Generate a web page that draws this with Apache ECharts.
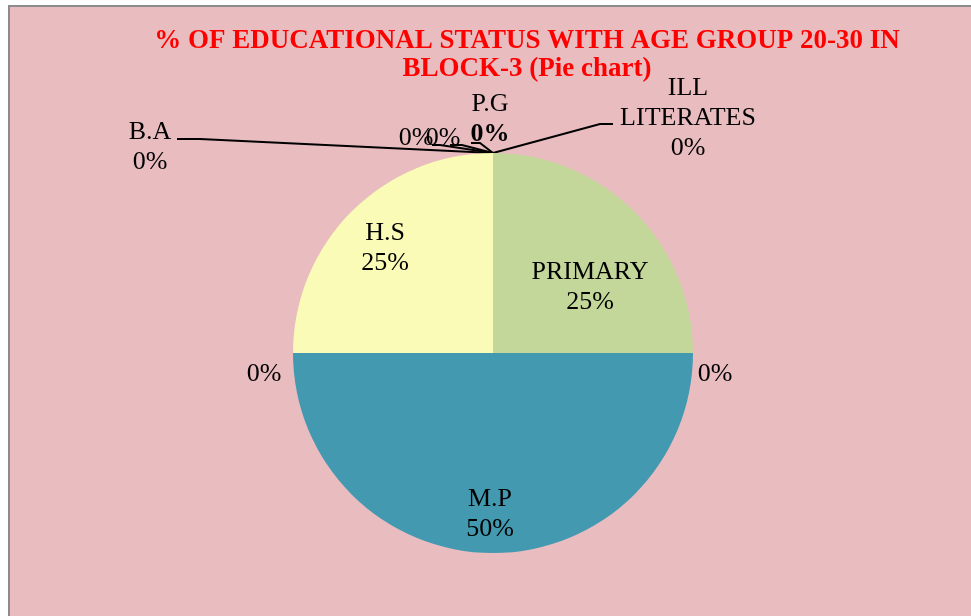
<!DOCTYPE html>
<html>
<head>
<meta charset="utf-8">
<title>Educational status, age group 20-30, Block-3</title>
<script src="https://cdn.jsdelivr.net/npm/echarts@6/dist/echarts.min.js"></script>
<style>
  html, body { margin: 0; padding: 0; background: #fff; overflow: hidden; }
  #frame {
    position: absolute; left: 8px; top: 5px; width: 1100px; height: 700px;
    border-left: 2px solid #8c8c8c; border-top: 2px solid #8c8c8c;
    background: #e9bcc0;
  }
  #chart { position: absolute; left: 0; top: 0; width: 1054px; height: 616px; }
</style>
</head>
<body>
<div id="frame"></div>
<div id="chart"></div>
<script>
// slices in clockwise order from 12 o'clock (blank names = unlabelled categories)
const categories = ['ILL LITERATES', 'PRIMARY', '', 'M.P', '', 'H.S', '', '', 'B.A', 'P.G'];
const shares = [0, 25, 0, 50, 0, 25, 0, 0, 0, 0];
const sliceColors = ['#c0504d', '#c4d79b', '#8064a2', '#4299b0', '#f79646', '#fafbb6', '#4f81bd', '#9bbb59', '#8064a2', '#4bacc6'];

// where each label sits on the page (center) and where its leader line bends
const labelSpots = [
  { x: 688, y: 118, line: [[600, 124], [613, 124]] },
  { x: 590, y: 287 },
  { x: 715, y: 374 },
  { x: 490, y: 514 },
  { x: 264, y: 374 },
  { x: 385, y: 248 },
  { x: 416, y: 138, line: [[440, 145], [432, 145]] },
  { x: 443, y: 138, line: [[462, 145], [450, 145]] },
  { x: 150, y: 147, line: [[200, 139], [177, 139]] },
  { x: 490, y: 119, line: [[480, 143], [471, 143]] }
];
const boldPct = 9; // the P.G percentage is shown in bold

const chart = echarts.init(document.getElementById('chart'), null, { renderer: 'canvas' });

const option = {
  animation: false,
  backgroundColor: 'transparent',
  title: {
    text: '% OF EDUCATIONAL STATUS WITH AGE GROUP 20-30 IN\nBLOCK-3 (Pie chart)',
    left: 'center',
    top: 22,
    textStyle: {
      fontFamily: 'Liberation Serif',
      fontSize: 27,
      fontWeight: 'bold',
      color: '#ff0000',
      lineHeight: 28
    }
  },
  series: [{
    type: 'pie',
    center: [493, 353],
    radius: 200,
    startAngle: 90,
    clockwise: true,
    avoidLabelOverlap: false,
    minShowLabelAngle: 0,
    emphasis: { disabled: true },
    itemStyle: { borderWidth: 0 },
    label: {
      show: true,
      position: 'outside',
      fontFamily: 'Liberation Serif',
      fontSize: 26,
      color: '#000',
      lineHeight: 30,
      align: 'center',
      formatter: function (p) {
        const pct = Math.round(p.percent) + '%';
        const pctTxt = p.dataIndex === boldPct ? '{b|' + pct + '}' : pct;
        if (!p.name) return pctTxt;
        return p.name.split(' ').join('\n') + '\n' + pctTxt;
      },
      rich: {
        b: { fontFamily: 'Liberation Serif', fontSize: 26, fontWeight: 'bold', color: '#000', lineHeight: 30 }
      }
    },
    labelLine: {
      show: true,
      length: 10,
      length2: 10,
      lineStyle: { color: '#000', width: 2 }
    },
    labelLayout: function (params) {
      const spot = labelSpots[params.dataIndex];
      const out = { x: spot.x, y: spot.y, align: 'center', verticalAlign: 'middle' };
      if (spot.line && params.labelLinePoints) {
        out.labelLinePoints = [params.labelLinePoints[0]].concat(spot.line);
      }
      return out;
    },
    data: categories.map(function (name, i) {
      return {
        name: name,
        value: shares[i],
        itemStyle: { color: sliceColors[i] },
        labelLine: { show: !!labelSpots[i].line }
      };
    })
  }]
};

chart.setOption(option);
</script>
</body>
</html>
